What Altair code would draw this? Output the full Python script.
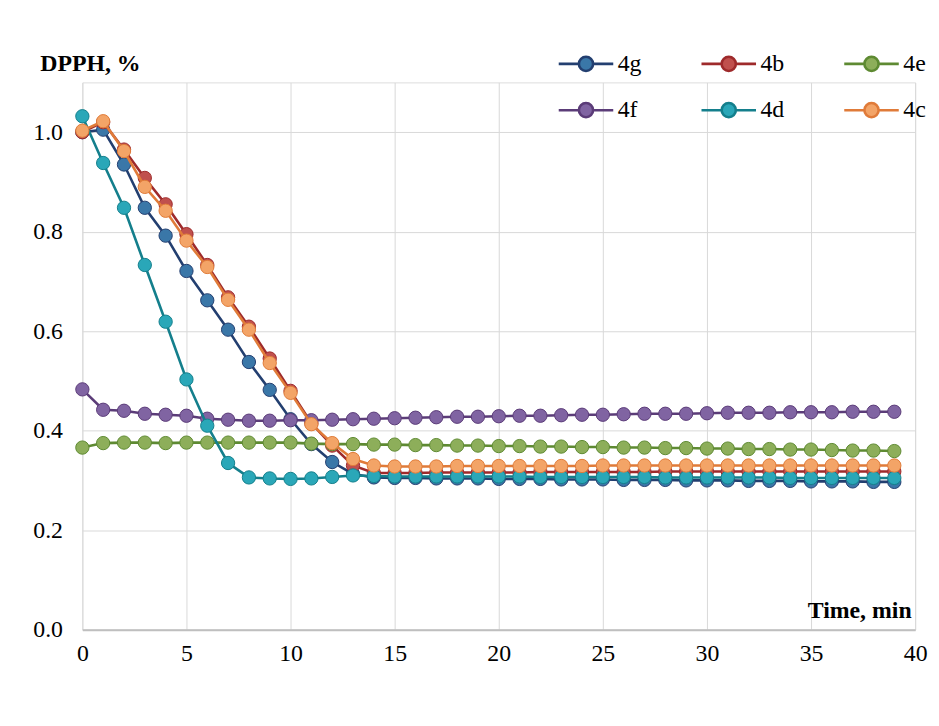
import altair as alt
import pandas as pd

time = list(range(40))

s4g = [1.000, 1.005, 0.935, 0.848, 0.792, 0.721, 0.662, 0.603, 0.538, 0.482,
       0.423, 0.373, 0.337, 0.313, 0.306, 0.305, 0.305, 0.304, 0.304, 0.304,
       0.303, 0.303, 0.303, 0.302, 0.302, 0.302, 0.301, 0.301, 0.301, 0.300,
       0.300, 0.300, 0.299, 0.299, 0.299, 0.298, 0.298, 0.298, 0.297, 0.297]
s4b = [1.000, 1.020, 0.965, 0.908, 0.855, 0.795, 0.733, 0.668, 0.609, 0.545,
       0.480, 0.415, 0.370, 0.330, 0.315, 0.315, 0.315, 0.316, 0.316, 0.316,
       0.316, 0.316, 0.317, 0.317, 0.317, 0.317, 0.317, 0.317, 0.318, 0.318,
       0.318, 0.318, 0.318, 0.318, 0.318, 0.318, 0.318, 0.318, 0.318, 0.318]
s4e = [0.366, 0.375, 0.376, 0.376, 0.375, 0.376, 0.376, 0.376, 0.376, 0.376,
       0.376, 0.374, 0.373, 0.373, 0.372, 0.372, 0.371, 0.371, 0.370, 0.370,
       0.369, 0.369, 0.368, 0.368, 0.367, 0.367, 0.366, 0.366, 0.365, 0.365,
       0.364, 0.364, 0.363, 0.363, 0.362, 0.362, 0.361, 0.360, 0.360, 0.359]
s4f = [0.483, 0.442, 0.440, 0.434, 0.432, 0.430, 0.424, 0.422, 0.420, 0.420,
       0.421, 0.421, 0.422, 0.423, 0.424, 0.425, 0.426, 0.427, 0.428, 0.428,
       0.429, 0.430, 0.430, 0.431, 0.432, 0.432, 0.433, 0.434, 0.434, 0.434,
       0.435, 0.436, 0.436, 0.436, 0.437, 0.437, 0.437, 0.438, 0.438, 0.438]
s4d = [1.032, 0.938, 0.848, 0.733, 0.619, 0.503, 0.410, 0.335, 0.306, 0.304,
       0.303, 0.304, 0.307, 0.310, 0.309, 0.308, 0.308, 0.308, 0.308, 0.308,
       0.308, 0.308, 0.307, 0.307, 0.307, 0.307, 0.307, 0.307, 0.306, 0.306,
       0.306, 0.306, 0.306, 0.306, 0.305, 0.305, 0.305, 0.305, 0.305, 0.305]
s4c = [1.003, 1.022, 0.962, 0.890, 0.842, 0.782, 0.729, 0.663, 0.603, 0.536,
       0.476, 0.413, 0.375, 0.343, 0.330, 0.328, 0.328, 0.328, 0.329, 0.329,
       0.329, 0.329, 0.329, 0.329, 0.329, 0.330, 0.330, 0.330, 0.330, 0.330,
       0.330, 0.330, 0.330, 0.330, 0.330, 0.330, 0.330, 0.330, 0.330, 0.330]

names = ["4g", "4b", "4e", "4f", "4d", "4c"]
series = [s4g, s4b, s4e, s4f, s4d, s4c]
line_colors = ["#233F70", "#9E2A2B", "#5E8A32", "#5B3C78", "#147F8C", "#E07B39"]
fill_colors = ["#3A77A8", "#C0504D", "#8DAE5A", "#8064A2", "#2AA7B8", "#F3A467"]

x_ticks = [0, 5, 10, 15, 20, 25, 30, 35, 40]
y_ticks = [0.0, 0.2, 0.4, 0.6, 0.8, 1.0]

rows = []
for n, vals in zip(names, series):
    for t, v in zip(time, vals):
        rows.append({"t": t, "v": v, "series": n})
df = pd.DataFrame(rows)

FONT = "Liberation Serif"

x = alt.X("t:Q", scale=alt.Scale(domain=[0, 40], nice=False),
          axis=alt.Axis(values=x_ticks, grid=True, gridColor="#d9d9d9", gridWidth=1,
                        ticks=False, domain=True, domainColor="#bfbfbf", domainWidth=2,
                        labelFont=FONT, labelFontSize=24, labelColor="#000000",
                        labelPadding=12, labelFlush=False,
                        title="Time, min", titleFont=FONT, titleFontSize=24,
                        titleFontWeight="bold", titleColor="#000000",
                        titleAlign="right", titleAnchor="start", titleX=836, titleY=-12,
                        titleBaseline="alphabetic"))
y = alt.Y("v:Q", scale=alt.Scale(domain=[0, 1.1], nice=False),
          axis=alt.Axis(values=y_ticks, format=".1f", grid=True, gridColor="#d9d9d9",
                        gridWidth=1, ticks=False, domain=False,
                        labelFont=FONT, labelFontSize=24, labelColor="#000000",
                        labelPadding=20,
                        title="DPPH, %", titleFont=FONT, titleFontSize=24,
                        titleFontWeight="bold", titleColor="#000000", titleAngle=0,
                        titleAlign="left", titleAnchor="start", titleX=-43, titleY=-12,
                        titleBaseline="alphabetic"))

sym = "M-1,0L-0.26,0M0.26,0L1,0M-0.26,0A0.26,0.26 0 1,0 0.26,0A0.26,0.26 0 1,0 -0.26,0Z"

def make_legend():
    return alt.Legend(title=None, orient="none", legendX=479, legendY=-48,
                      columns=3, direction="horizontal", symbolType=sym, symbolSize=3025,
                      symbolStrokeWidth=2.6, labelFont=FONT,
                      labelFontSize=24, labelColor="#000000",
                      labelOffset=3, columnPadding=55, rowPadding=5,
                      padding=0)

stroke = alt.Stroke("series:N", scale=alt.Scale(domain=names, range=line_colors),
                    legend=make_legend())
fill = alt.Fill("series:N", scale=alt.Scale(domain=names, range=fill_colors),
                legend=make_legend())

layers = []
for n in names:
    base = alt.Chart(df).transform_filter(alt.datum.series == n)
    layers.append(base.mark_line(strokeWidth=2.6).encode(x=x, y=y, stroke=stroke))
    layers.append(base.mark_point(filled=True, size=180, strokeWidth=1, opacity=1)
                  .encode(x=x, y=y, fill=fill, stroke=stroke))

chart = alt.layer(*layers).properties(
    width=840, height=552,
    autosize=alt.AutoSizeParams(type="none"),
    padding={"left": 75, "top": 72, "right": 16, "bottom": 80},
).configure_view(stroke=None).configure(background="#ffffff")

chart.save("out.html", embed_options={"renderer": "svg", "actions": False})
